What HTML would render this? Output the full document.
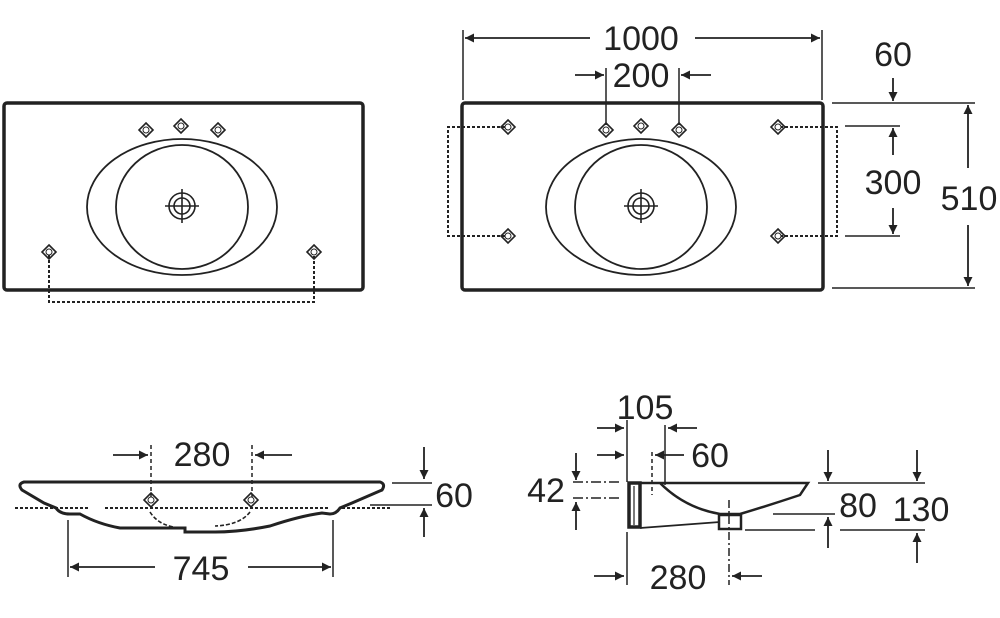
<!DOCTYPE html>
<html><head><meta charset="utf-8"><style>
html,body{margin:0;padding:0;background:#fff;}
svg{display:block}
text{font-family:"Liberation Sans",sans-serif;font-size:34px;fill:#222;text-anchor:middle}
</style></head><body>
<svg width="1000" height="618" viewBox="0 0 1000 618" xmlns="http://www.w3.org/2000/svg">
<defs>
<marker id="a" viewBox="0 0 10 10" refX="10" refY="5" markerWidth="9" markerHeight="9" markerUnits="userSpaceOnUse" orient="auto"><path d="M0,0 L10,5 L0,10 z" fill="#222"/></marker>
<g id="tap"><path d="M0,-7 L7,0 L0,7 L-7,0 z" fill="none" stroke="#222" stroke-width="1.6"/><circle r="3" fill="#fff" stroke="#222" stroke-width="1"/></g>
<g id="drain"><circle r="13" fill="none" stroke="#222" stroke-width="1.6"/><circle r="8" fill="none" stroke="#222" stroke-width="1.6"/><path d="M-17,0H17M0,-17V17" stroke="#222" stroke-width="1.6"/></g>
</defs>
<g fill="none" stroke="#222" stroke-linecap="butt">
<rect x="4" y="103" width="359" height="187" rx="3" stroke-width="3.5"/>
<ellipse cx="182" cy="207" rx="95" ry="68" stroke-width="1.8"/>
<ellipse cx="182" cy="207" rx="66" ry="62" stroke-width="1.8"/>
<path d="M49,255V302H314V255" stroke-width="2" stroke-dasharray="3,2"/>
<rect x="462" y="103" width="361" height="187" rx="3" stroke-width="3.5"/>
<ellipse cx="641" cy="207" rx="95" ry="68" stroke-width="1.8"/>
<ellipse cx="641" cy="207" rx="66" ry="62" stroke-width="1.8"/>
<path d="M510,127H448V236H510M775,127H837V236H775" stroke-width="2" stroke-dasharray="3,2"/>
<g stroke-width="1.5">
<path d="M463,30V100M822,30V100M606,68V125M679,68V125"/>
<path d="M832,103H975M845,126H900M845,236H900M832,288H975"/>
</g>
<g stroke-width="1.8" marker-end="url(#a)">
<path d="M590,38H465"/><path d="M695,38H820"/>
<path d="M575,75H604"/><path d="M711,75H681"/>
<path d="M893,78V101"/>
<path d="M893,155V128"/><path d="M893,208V234"/>
<path d="M968,168V105"/><path d="M968,225V286"/>
</g>
<path d="M24,482H380Q386,484 382,490L352,503 340,508 Q 336,514 330,514 L322,513 Q300,516 270,526 Q240,532 215,532 L185,532 L185,528 L120,528 Q98,524 80,514 L70,514 Q60,514 56,508 L44,503 L22,490 Q17,484 24,482z" stroke-width="3"/>
<path d="M15,508H90M105,508H330M342,508H390" stroke-width="2" stroke-dasharray="3,2"/>
<path d="M150,512Q160,528 185,528M250,512Q240,525 215,526" stroke-width="1.6" stroke-dasharray="4,2"/>
<g stroke-width="1.5">
<path d="M151,445V500M252,445V500" stroke-dasharray="4,3"/>
<path d="M68,520V577M333,520V577M392,483H432M370,505H432"/>
</g>
<g stroke-width="1.8" marker-end="url(#a)">
<path d="M113,455H148"/><path d="M292,455H255"/>
<path d="M424,447V479"/><path d="M424,537V508"/>
<path d="M155,567H70"/><path d="M248,567H331"/>
</g>
<path d="M629,483H640V527H629Z" stroke-width="3.5"/>
<path d="M634,486V525" stroke-width="1.2"/>
<path d="M640,483H808L800,495 Q770,505 740,514 L720,514 Q685,508 660,483" stroke-width="2.5"/>
<path d="M640,528L720,522" stroke-width="1.8"/>
<rect x="719" y="515" width="22" height="14" stroke-width="2.5"/>
<g stroke-width="1.5">
<path d="M627,420V482M627,532V585M665,425V485" />
<path d="M652,452V495" stroke-dasharray="4,3"/>
<path d="M729,500V585" stroke-dasharray="8,3,2,3"/>
<path d="M573,482H622M573,498H622" stroke-dasharray="10,3,2,3"/>
<path d="M818,483H925M773,514H835M745,530H815M840,530H925"/>
</g>
<g stroke-width="1.8" marker-end="url(#a)">
<path d="M597,428H624"/><path d="M697,428H668"/>
<path d="M597,455H624"/><path d="M684,455H655"/>
<path d="M576,453V480"/><path d="M576,530V502"/>
<path d="M828,450V481"/><path d="M828,548V517"/>
<path d="M917,450V481"/><path d="M917,563V533"/>
<path d="M594,576H624"/><path d="M762,576H732"/>
</g>
</g>
<use href="#tap" x="146" y="130"/><use href="#tap" x="181" y="126"/><use href="#tap" x="218" y="130"/>
<use href="#tap" x="49" y="252"/><use href="#tap" x="314" y="252"/>
<use href="#drain" x="182" y="206"/>
<use href="#tap" x="606" y="130"/><use href="#tap" x="641" y="126"/><use href="#tap" x="679" y="130"/>
<use href="#tap" x="508" y="127"/><use href="#tap" x="508" y="236"/><use href="#tap" x="778" y="127"/><use href="#tap" x="778" y="236"/>
<use href="#drain" x="641" y="206"/>
<use href="#tap" x="151" y="500"/><use href="#tap" x="251" y="500"/>
<text x="641" y="50">1000</text>
<text x="641" y="87">200</text>
<text x="893" y="66">60</text>
<text x="893" y="194">300</text>
<text x="969" y="210">510</text>
<text x="202" y="466">280</text>
<text x="454" y="507">60</text>
<text x="201" y="580">745</text>
<text x="645" y="419">105</text>
<text x="710" y="467">60</text>
<text x="546" y="502">42</text>
<text x="858" y="517">80</text>
<text x="921" y="521">130</text>
<text x="678" y="589">280</text>
</svg>
</body></html>
